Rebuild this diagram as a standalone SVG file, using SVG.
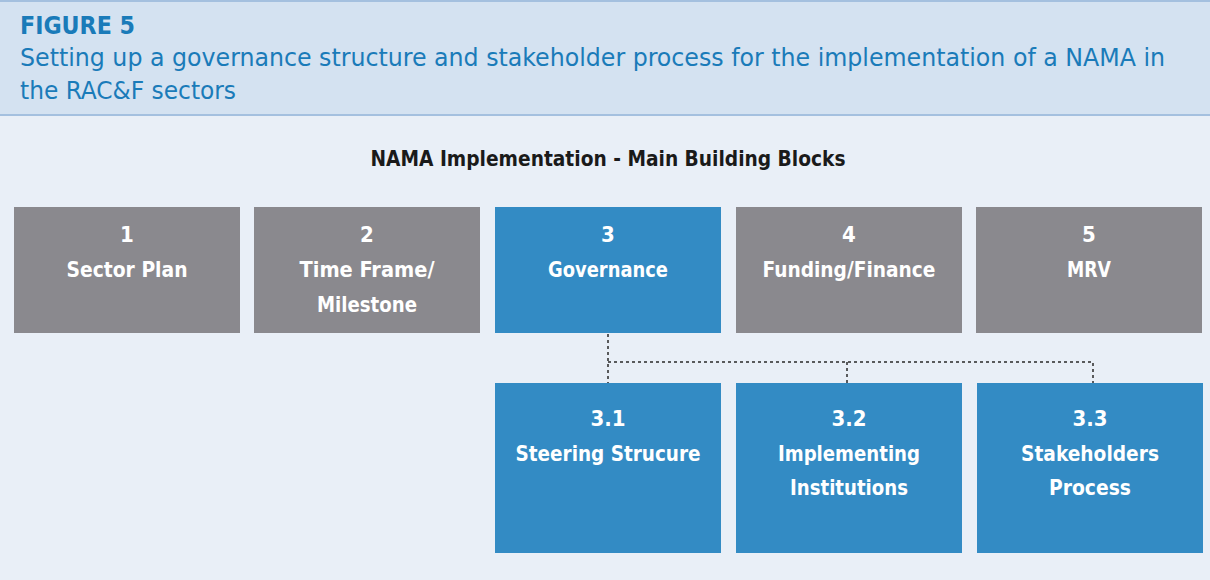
<svg xmlns="http://www.w3.org/2000/svg" width="1210" height="580" viewBox="0 0 1210 580">
<style>
.hd{font-family:"DejaVu Sans Condensed","DejaVu Sans",sans-serif;fill:#1a7bb9}
.bx text{font-family:"DejaVu Sans Condensed","DejaVu Sans",sans-serif;font-weight:bold;font-size:22px;fill:#ffffff;text-anchor:middle}
.g{fill:#8a898e}
.b{fill:#338bc4}
.con{stroke:#2a2a2a;stroke-width:1.5;stroke-dasharray:3 3;fill:none}
</style>
<rect x="0" y="0" width="1210" height="580" fill="#e9eff7"/>
<rect x="0" y="0" width="1210" height="116" fill="#d4e2f1"/>
<line x1="0" y1="1" x2="1210" y2="1" stroke="#a4c0df" stroke-width="2"/>
<line x1="0" y1="115" x2="1210" y2="115" stroke="#a4c0df" stroke-width="2"/>
<text class="hd" x="20" y="34" font-size="25" font-weight="bold" textLength="115" lengthAdjust="spacingAndGlyphs">FIGURE 5</text>
<text class="hd" x="20" y="66" font-size="24" textLength="1145" lengthAdjust="spacingAndGlyphs">Setting up a governance structure and stakeholder process for the implementation of a NAMA in</text>
<text class="hd" x="20" y="99" font-size="24" textLength="216" lengthAdjust="spacingAndGlyphs">the RAC&amp;F sectors</text>
<text x="608" y="166" font-family="DejaVu Sans Condensed,DejaVu Sans,sans-serif" font-weight="bold" font-size="21" fill="#1a1a1a" text-anchor="middle" textLength="475" lengthAdjust="spacingAndGlyphs">NAMA Implementation - Main Building Blocks</text>
<g id="connectors">
<path class="con" d="M608 334 V383 M608 362 H1093 V383 M847 362 V383"/>
</g>
<g id="n1" class="bx"><rect class="g" x="14" y="207" width="226" height="126"/><text x="127" y="242">1</text><text x="127" y="277" textLength="121" lengthAdjust="spacingAndGlyphs">Sector Plan</text></g>
<g id="n2" class="bx"><rect class="g" x="254" y="207" width="226" height="126"/><text x="367" y="242">2</text><text x="367" y="277" textLength="135" lengthAdjust="spacingAndGlyphs">Time Frame/</text><text x="367" y="312" textLength="100" lengthAdjust="spacingAndGlyphs">Milestone</text></g>
<g id="n3" class="bx"><rect class="b" x="495" y="207" width="226" height="126"/><text x="608" y="242">3</text><text x="608" y="277" textLength="120" lengthAdjust="spacingAndGlyphs">Governance</text></g>
<g id="n4" class="bx"><rect class="g" x="736" y="207" width="226" height="126"/><text x="849" y="242">4</text><text x="849" y="277" textLength="173" lengthAdjust="spacingAndGlyphs">Funding/Finance</text></g>
<g id="n5" class="bx"><rect class="g" x="976" y="207" width="226" height="126"/><text x="1089" y="242">5</text><text x="1089" y="277" textLength="44" lengthAdjust="spacingAndGlyphs">MRV</text></g>
<g id="n31" class="bx"><rect class="b" x="495" y="383" width="226" height="170"/><text x="608" y="426">3.1</text><text x="608" y="461" textLength="185" lengthAdjust="spacingAndGlyphs">Steering Strucure</text></g>
<g id="n32" class="bx"><rect class="b" x="736" y="383" width="226" height="170"/><text x="849" y="426">3.2</text><text x="849" y="461" textLength="142" lengthAdjust="spacingAndGlyphs">Implementing</text><text x="849" y="495" textLength="118" lengthAdjust="spacingAndGlyphs">Institutions</text></g>
<g id="n33" class="bx"><rect class="b" x="977" y="383" width="226" height="170"/><text x="1090" y="426">3.3</text><text x="1090" y="461" textLength="138" lengthAdjust="spacingAndGlyphs">Stakeholders</text><text x="1090" y="495" textLength="82" lengthAdjust="spacingAndGlyphs">Process</text></g>
</svg>
